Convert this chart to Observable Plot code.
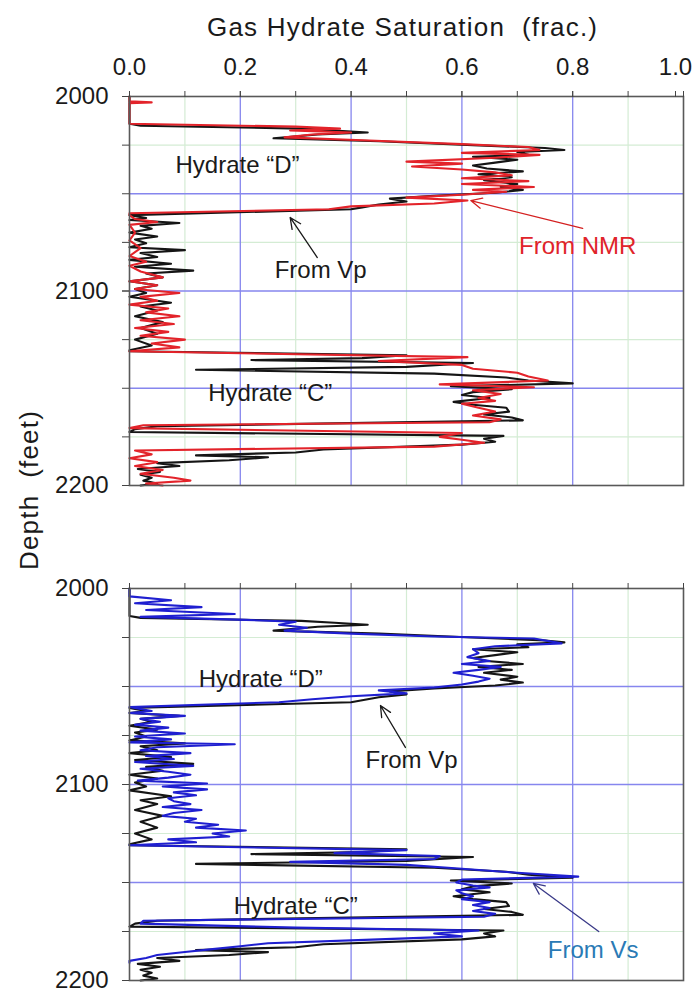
<!DOCTYPE html>
<html><head><meta charset="utf-8">
<script src="https://cdn.jsdelivr.net/npm/d3@7"></script>
<script src="https://cdn.jsdelivr.net/npm/@observablehq/plot@0.6"></script>
<style>
body{margin:0;background:#fff;}
#wrap{position:relative;width:693px;height:992px;font-family:"Liberation Sans",Arial,sans-serif;color:#1a1a1a;overflow:hidden;background:#fff}
.panel{position:absolute;left:0}
#title{position:absolute;left:207px;top:14px;font-size:26px;line-height:26px;white-space:pre;letter-spacing:1.2px}
#ylab{position:absolute;left:29px;top:490px;transform:translate(-50%,-50%) rotate(-90deg);font-size:26px;line-height:26px;white-space:pre;letter-spacing:1.2px}
</style></head><body>
<div id="wrap">
<div class="panel" id="p1" style="top:0"></div>
<div class="panel" id="p2" style="top:492px"></div>
<div id="title">Gas Hydrate Saturation  (frac.)</div>
<div id="ylab">Depth  (feet)</div>
</div>
<script>
// ---- axes / ticks ----
const xLabels = [0, 0.2, 0.4, 0.6, 0.8];
const xLastLabel = [1.0];
const xMinorTicks = [0, 0.1, 0.2, 0.3, 0.4, 0.5, 0.6, 0.7, 0.8, 0.9, 1.0];
const xMajorGrid = [0.2, 0.4, 0.6, 0.8];
const xMinorGrid = [0.1, 0.3, 0.5, 0.7, 0.9];
const depthLabels = [2000, 2100, 2200];
const depthTicks = [2000, 2025, 2050, 2075, 2100, 2125, 2150, 2175, 2200];
const depthMajorGrid = [2050, 2100, 2150];
const depthMinorGrid = [2025, 2075, 2125, 2175];

// ---- series: [depth (ft), saturation (frac.)] ----
const vp = [
[2000,0.0],[2014,0.0],[2015,0.02],[2016.5,0.31],[2017.5,0.37],[2018.5,0.43],[2019.5,0.34],[2021.5,0.26],[2023,0.45],[2025,0.62],[2026.5,0.75],[2027.5,0.785],[2028.5,0.7],[2030,0.72],[2031,0.62],[2032.5,0.7],[2034,0.66],[2035.5,0.62],[2037,0.645],[2038.5,0.71],[2040,0.63],[2041.5,0.69],[2043,0.64],[2045,0.70],[2046.5,0.67],[2048,0.71],[2049.5,0.66],[2051,0.55],[2052.5,0.47],[2054,0.5],[2055.5,0.45],[2057,0.42],[2058,0.4],[2061,0.0],
[2062.5,0.03],[2063.5,0.0],[2065,0.09],[2066.5,0.02],[2068,0.04],[2070,0.0],[2072,0.05],[2073.5,0.01],[2075.5,0.03],[2077.5,0.0],[2079,0.1],[2080.5,0.02],[2082.5,0.05],[2084,0.0],[2086,0.075],[2087.5,0.01],[2089.5,0.115],[2091,0.03],[2093,0.06],[2095,0.0],[2097,0.05],[2099,0.01],[2101,0.03],[2103,0.0],[2106,0.075],[2108,0.02],[2110,0.05],[2113,0.01],[2116,0.06],[2119,0.02],[2122,0.05],[2125,0.01],[2128,0.04],[2130.5,0.0],
[2131,0.0],[2133,0.5],[2134.5,0.42],[2135.5,0.22],[2137,0.62],[2139,0.5],[2140.5,0.12],[2142.5,0.55],[2144.5,0.68],[2146,0.72],[2147.5,0.8],[2149,0.58],[2150.5,0.69],[2152,0.62],[2153.5,0.6],[2155,0.65],[2157,0.585],[2158.5,0.62],[2160,0.68],[2162,0.685],[2163.5,0.64],[2165,0.69],[2166.5,0.71],[2169.5,0.05],[2171,0.01],[2172.5,0.0],[2174.5,0.675],[2176,0.64],[2177.5,0.66],[2179,0.6],[2181.5,0.35],[2183,0.3],[2184.5,0.12],[2185.5,0.25],[2187,0.18],[2188.5,0.05],[2190,0.09],[2191.5,0.015],[2193,0.055],[2194.5,0.02],[2196,0.04],[2197.5,0.025],[2199,0.05],[2200,0.02]
];
const nmr = [
[2000,0.0],[2002.5,0.0],[2003,0.04],[2003.5,0.0],[2014,0.0],[2015.5,0.3],[2016.5,0.38],[2017.5,0.29],[2018.5,0.40],[2019.5,0.33],[2021,0.28],[2022.5,0.42],[2024.5,0.6],[2026,0.72],[2027.5,0.74],[2029,0.6],[2030,0.74],[2031.5,0.66],[2033.5,0.5],[2034.5,0.6],[2036,0.51],[2037.5,0.6],[2039,0.66],[2040.5,0.69],[2042,0.6],[2043.5,0.72],[2045,0.6],[2046.5,0.73],[2048,0.62],[2049,0.68],[2050.5,0.6],[2052,0.5],[2053.5,0.61],[2055,0.55],[2056.5,0.4],[2058,0.36],[2060,0.0],
[2061,0.0],[2063,0.01],[2064.5,0.05],[2066,0.0],[2070,0.01],[2074,0.0],[2078,0.02],[2082,0.0],[2085,0.03],[2087,0.0],[2090,0.02],[2093,0.06],[2095,0.0],[2097,0.05],[2099,0.01],[2101,0.09],[2103,0.02],[2105,0.05],[2107,0.0],[2109,0.07],[2111,0.03],[2113,0.09],[2115,0.02],[2117,0.08],[2119,0.01],[2121,0.07],[2123,0.02],[2125,0.1],[2127,0.04],[2129,0.09],[2131,0.0],
[2134,0.61],[2136,0.45],[2138,0.6],[2140,0.62],[2142,0.70],[2144,0.72],[2146,0.755],[2148,0.56],[2149.5,0.73],[2151,0.62],[2153,0.67],[2155,0.63],[2156.5,0.66],[2158,0.6],[2160,0.63],[2162,0.66],[2164,0.62],[2166,0.67],[2167.5,0.65],[2169,0.025],[2170.5,0.0],[2173,0.6],[2175,0.56],[2176.5,0.6],[2178,0.64],[2180,0.55],[2182,0.01],[2184,0.04],[2186,0.0],[2188,0.05],[2190,0.01],[2192,0.06],[2194,0.02],[2196,0.08],[2197.5,0.11],[2199,0.03],[2200,0.06]
];
const vs = [
[2000,0.0],[2004,0.0],[2006,0.075],[2007.5,0.01],[2009.5,0.13],[2011,0.03],[2013,0.19],[2014.5,0.02],[2016,0.21],[2017,0.3],[2018.5,0.27],[2020,0.32],[2021.5,0.28],[2023,0.4],[2024.5,0.55],[2025.5,0.73],[2028,0.78],[2029.5,0.66],[2031,0.62],[2033,0.63],[2035,0.61],[2037,0.65],[2038.5,0.6],[2040,0.67],[2041.5,0.63],[2043,0.585],[2044.5,0.62],[2046,0.65],[2047.5,0.63],[2049,0.6],[2050.5,0.55],[2052,0.45],[2053.5,0.5],[2055,0.4],[2056.5,0.33],[2058,0.27],[2060.5,0.0],
[2062.5,0.04],[2063.5,0.0],[2065,0.1],[2066.5,0.02],[2068,0.055],[2069.5,0.01],[2071,0.07],[2072.5,0.02],[2074,0.1],[2075.5,0.01],[2077,0.075],[2078.5,0.0],[2079.5,0.19],[2081,0.05],[2082.5,0.02],[2084,0.11],[2085.5,0.03],[2087,0.08],[2088.5,0.01],[2090.5,0.115],[2092,0.02],[2093.5,0.07],[2095,0.11],[2096.5,0.07],[2098,0.015],[2099.5,0.14],[2101,0.06],[2102.5,0.14],[2104,0.08],[2105.5,0.12],[2107,0.07],[2108.5,0.08],[2110,0.11],[2111.5,0.06],[2113,0.13],[2114.5,0.08],[2116,0.06],[2117.5,0.12],[2119,0.1],[2120.5,0.16],[2122,0.12],[2123.5,0.21],[2125,0.15],[2126.5,0.18],[2128,0.07],[2129.5,0.12],[2131,0.0],
[2133.5,0.5],[2135,0.37],[2136.5,0.56],[2138,0.55],[2139.5,0.29],[2141,0.5],[2143,0.6],[2145,0.7],[2147,0.81],[2148.5,0.6],[2150,0.59],[2151.5,0.62],[2152.5,0.65],[2154,0.59],[2155.5,0.6],[2157,0.62],[2158.5,0.6],[2160,0.65],[2161.5,0.62],[2163,0.65],[2164.5,0.62],[2166,0.66],[2167.5,0.64],[2169.5,0.025],[2171,0.02],[2173,0.3],[2174.5,0.63],[2176,0.55],[2177.5,0.6],[2179,0.45],[2181,0.25],[2182.5,0.2],[2184,0.15],[2185.5,0.1],[2187,0.05],[2188.5,0.03],[2190,0.0],[2191,0.0]
];

// ---- annotations (data coordinates) ----
const topLabels = [
  {x: 0.195, y: 2035.5, text: "Hydrate “D”", color: "#1a1a1a"},
  {x: 0.345, y: 2089.4, text: "From Vp", color: "#1a1a1a"},
  {x: 0.809, y: 2077, text: "From NMR", color: "#e0242a"},
  {x: 0.254, y: 2152.7, text: "Hydrate “C”", color: "#1a1a1a"}
];
const topArrows = [
  {x1: 0.339, y1: 2082.8, x2: 0.29, y2: 2062.2, color: "#1a1a1a"},
  {x1: 0.818, y1: 2067.8, x2: 0.616, y2: 2053.5, color: "#d42020"}
];
const botLabels = [
  {x: 0.237, y: 2046.4, text: "Hydrate “D”", color: "#1a1a1a"},
  {x: 0.509, y: 2087.7, text: "From Vp", color: "#1a1a1a"},
  {x: 0.3, y: 2162.2, text: "Hydrate “C”", color: "#1a1a1a"},
  {x: 0.837, y: 2184.6, text: "From Vs", color: "#2a7ab5"}
];
const botArrows = [
  {x1: 0.498, y1: 2081.1, x2: 0.453, y2: 2059.7, color: "#1a1a1a"},
  {x1: 0.847, y1: 2175, x2: 0.729, y2: 2150.5, color: "#3a3a88"}
];

const FONT = "Liberation Sans, Arial, sans-serif";

function panel({curves, labels, arrows, height, marginBottom, showX}) {
  const marks = [
    Plot.ruleX(xMinorGrid, {stroke: "#d4ecd4", strokeWidth: 1.2}),
    Plot.ruleY(depthMinorGrid, {stroke: "#d4ecd4", strokeWidth: 1.2}),
    Plot.ruleX(xMajorGrid, {stroke: "#8686ee", strokeWidth: 1.3}),
    Plot.ruleY(depthMajorGrid, {stroke: "#8686ee", strokeWidth: 1.3}),
    ...curves.map(c => Plot.line(c.data, {x: d => d[1], y: d => d[0], stroke: c.color, strokeWidth: 2.1, strokeLinejoin: "round"})),
    ...arrows.map(a => Plot.arrow([a], {x1: "x1", y1: "y1", x2: "x2", y2: "y2", stroke: a.color, strokeWidth: 1.3, headLength: 14, headAngle: 50})),
    ...labels.map(l => Plot.text([l], {x: "x", y: "y", text: "text", fill: l.color, fontSize: 24, textAnchor: "middle", lineAnchor: "middle"})),
    Plot.frame({stroke: "#595959", strokeWidth: 1.6}),
    Plot.axisX(xMinorTicks, {anchor: "top", tickSize: 6, tickFormat: () => "", label: null, stroke: "#444"}),
    Plot.axisY(depthTicks, {anchor: "left", tickSize: 7, tickFormat: () => "", label: null, stroke: "#444"}),
    Plot.axisY(depthLabels, {anchor: "left", tickSize: 7, tickPadding: 14, tickFormat: d => String(d), label: null, fontSize: 24, fill: "#1a1a1a", stroke: "#444"})
  ];
  if (showX) {
    marks.push(Plot.axisX(xLabels, {anchor: "top", tickSize: 6, tickPadding: 16, tickFormat: d3.format(".1f"), label: null, fontSize: 24, fill: "#1a1a1a", stroke: "#444"}));
    marks.push(Plot.axisX(xLastLabel, {anchor: "top", tickSize: 6, tickPadding: 16, tickFormat: d3.format(".1f"), label: null, fontSize: 24, fill: "#1a1a1a", stroke: "#444", dx: -8}));
  }
  return Plot.plot({
    width: 693, height,
    marginTop: 96, marginBottom, marginLeft: 129, marginRight: 10,
    style: {fontFamily: FONT, fontSize: "24px", color: "#1a1a1a", background: "transparent", overflow: "visible"},
    x: {domain: [0, 1]},
    y: {domain: [2000, 2200], reverse: true},
    marks
  });
}

document.getElementById("p1").appendChild(panel({
  curves: [{data: vp, color: "#151515"}, {data: nmr, color: "#e3232a"}],
  labels: topLabels, arrows: topArrows, height: 500, marginBottom: 15, showX: true
}));
document.getElementById("p2").appendChild(panel({
  curves: [{data: vp, color: "#151515"}, {data: vs, color: "#1f1fd0"}],
  labels: botLabels, arrows: botArrows, height: 500, marginBottom: 12, showX: false
}));
</script>
</body></html>
